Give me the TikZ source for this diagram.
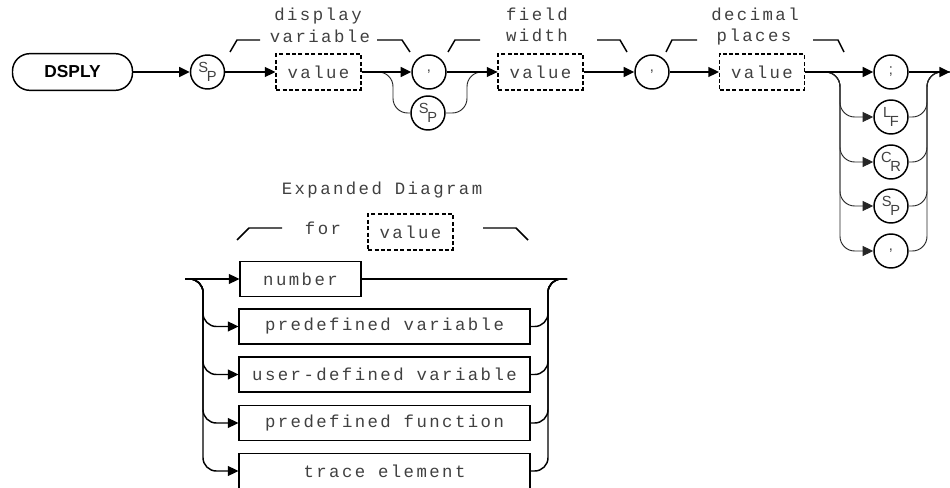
\documentclass[tikz,border=0pt]{standalone}
\usepackage{fontspec}
\usepackage{xcolor}
\usepackage{tikz}
\usetikzlibrary{arrows.meta, positioning}
\newfontfamily\hpfont[LetterSpace=14]{Liberation Mono}
\newfontfamily\kwfont{Liberation Sans}
\newfontfamily\cfont{Liberation Sans}
\newcommand{\twolet}[2]{\raisebox{3.2pt}{#1}\kern-1pt\raisebox{-3.8pt}{#2}}

\begin{document}
\begin{tikzpicture}[
  x=0.75pt, y=0.75pt,
  line width=1.1pt,
  kwbox/.style={draw, rounded corners=13pt, minimum width=90pt, minimum height=27.5pt,
                font=\kwfont\bfseries\fontsize{13}{15}\selectfont},
  valbox/.style={draw, dash pattern=on 3pt off 1.8pt, minimum width=63.5pt,
                 minimum height=27pt, inner sep=0pt, text=black!75,
                 font=\hpfont\fontsize{13}{14}\selectfont},
  itembox/.style={draw, minimum width=218pt, minimum height=26.5pt, inner sep=0pt,
                  text=black!75, font=\hpfont\fontsize{13}{14}\selectfont},
  circ/.style={draw, circle, minimum size=25.5pt, inner sep=0pt, text=black!75,
               font=\cfont\fontsize{11}{11}\selectfont},
  lbl/.style={font=\hpfont\fontsize{13}{14}\selectfont, text=black!75,
              inner sep=0pt, anchor=base},
  brk/.style={line width=1.1pt},
  arr/.style={-{Triangle[length=8pt,width=7.5pt]}},
  alt/.style={line width=0.7pt, black!85, rounded corners=11pt},
  rail/.style={rounded corners=10pt}
]
  \useasboundingbox (0,0) rectangle (950,-488);

  % Main line
  \node[kwbox]  (dsply)  at (72.5,-72)  {DSPLY};
  \node[circ]   (sp1)    at (207.5,-72) {\twolet SP};
  \node[valbox] (val1)   at (318.5,-72) {value};
  \node[circ]   (comma1) at (429,-72)   {,};
  \node[circ]   (sp2)    at (428,-113)  {\twolet SP};
  \node[valbox] (val2)   at (540.5,-72) {value};
  \node[circ]   (comma2) at (652,-72)   {,};
  \node[valbox] (val3)   at (762,-72)   {value};
  % Terminators
  \node[circ]   (semi)   at (891,-72)   {;};
  \node[circ]   (lf)     at (891,-117)  {\twolet LF};
  \node[circ]   (cr)     at (891,-162)  {\twolet CR};
  \node[circ]   (sp3)    at (891,-206)  {\twolet SP};
  \node[circ]   (comma3) at (891,-251)  {,};
  \coordinate (fin) at (950,-72);

  % Labels over the main line
  \node[lbl] (dv1) at (318,-21) {display};
  \node[lbl] (dv2) at (320,-43) {variable};
  \node[lbl] (fw1) at (537,-21) {field};
  \node[lbl] (fw2) at (537,-42) {width};
  \node[lbl] (dp1) at (755,-21) {decimal};
  \node[lbl] (dp2) at (754,-42) {places};
  \draw[brk] (230,-52) -- (237,-40) -- (260,-40);
  \draw[brk] (377,-40) -- (402,-40) -- (410,-52);
  \draw[brk] (448,-52) -- (455,-40) -- (480,-40);
  \draw[brk] (597,-40) -- (620,-40) -- (627,-52);
  \draw[brk] (666,-52) -- (672,-40) -- (697,-40);
  \draw[brk] (813,-40) -- (838,-40) -- (844,-52);

  % Bypass through SP
  \coordinate (j1) at (393,-72);
  \coordinate (j2) at (467,-72);
  \draw[alt] (val1.east) -- (j1) |- (sp2.west);
  \draw[alt] (sp2.east) -| (j2) -- (val2.west);

  % Alternative terminators
  \coordinate (lr) at (840,-72);
  \coordinate (rr) at (927,-72);
  \foreach \c in {lf,cr,sp3,comma3} {
    \draw[alt, arr] (val3.east) -- (lr) |- (\c.west);
    \draw[alt] (\c.east) -| (rr) -- (fin);
  }

  % Main connectors
  \draw[arr] (dsply) -- (sp1);
  \draw[arr] (sp1) -- (val1);
  \draw[arr] (val1) -- (comma1);
  \draw[arr] (comma1) -- (val2);
  \draw[arr] (val2) -- (comma2);
  \draw[arr] (comma2) -- (val3);
  \draw[arr] (val3) -- (semi);
  \draw[arr] (semi) -- (fin);

  % Expanded diagram
  \node[lbl]    (exph) at (382,-195)   {Expanded Diagram};
  \node[lbl]    (for)  at (323,-235)   {for};
  \node[valbox] (val4) at (410.5,-232) {value};
  \draw[brk] (237,-240) -- (249,-228) -- (282,-228);
  \draw[brk] (483,-228) -- (516,-228) -- (528,-240);

  \node[itembox, minimum width=90.5pt] (num) at (300.5,-279) {number};
  \node[itembox] (pvar)  at (384.5,-326.5) {predefined variable};
  \node[itembox] (uvar)  at (384.5,-374.5) {user-defined variable};
  \node[itembox] (pfun)  at (384.5,-423)   {predefined function};
  \node[itembox] (trace) at (384.5,-471)   {trace element};

  \coordinate (in)  at (185,-279);
  \coordinate (ll)  at (203,-279);
  \coordinate (rl)  at (548,-279);
  \coordinate (out) at (567,-279);

  \draw[arr] (in) -- (num);
  \draw (num) -- (out);
  \foreach \b in {pvar,uvar,pfun,trace} {
    \draw[rail, arr] (in) -- (ll) |- (\b.west);
    \draw[rail] (\b.east) -| (rl) -- (out);
  }
\end{tikzpicture}
\end{document}
